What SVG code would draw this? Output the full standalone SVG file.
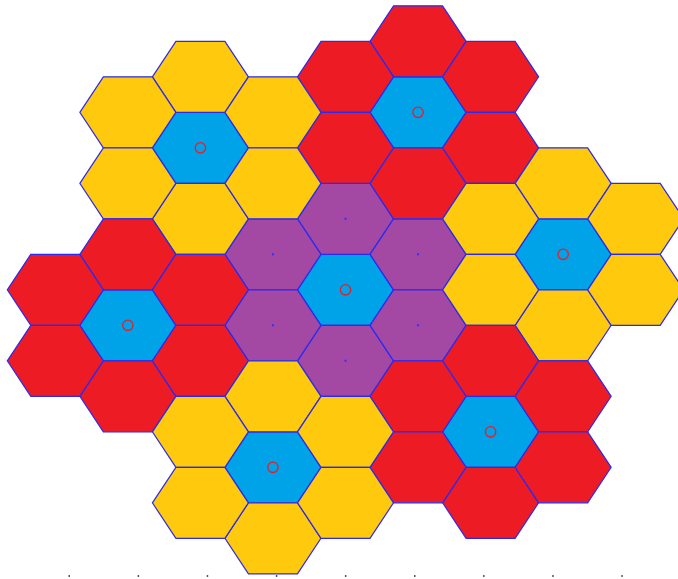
<svg xmlns="http://www.w3.org/2000/svg" xmlns:xlink="http://www.w3.org/1999/xlink" width="678" height="579" viewBox="0 0 678 579">
<style>
.h{stroke:#2a2af0;stroke-width:1.2;stroke-linejoin:miter}
.r{fill:#ED1C24}.y{fill:#FFC90E}.b{fill:#00A2E8}.p{fill:#A349A4}
.c{fill:none;stroke:#ED1C24;stroke-width:1.3}
.d{fill:#3030ff}
.t{fill:#555}
</style>
<defs>
<polygon id="hex" points="-48,0 -24.5,-35.5 24.5,-35.5 48,0 24.5,35.5 -24.5,35.5"/>
</defs>
<rect width="678" height="579" fill="#fff"/>
<g id="cells">
<!-- center cluster -->
<g id="b0"><use href="#hex" class="h b" x="345.5" y="289.8"/><circle class="c" cx="345.5" cy="289.8" r="5.2"/></g>
<g id="p1"><use href="#hex" class="h p" x="345.5" y="218.8"/><rect class="d" x="344.5" y="217.8" width="2" height="2"/></g>
<g id="p2"><use href="#hex" class="h p" x="345.5" y="360.8"/><rect class="d" x="344.5" y="359.8" width="2" height="2"/></g>
<g id="p3"><use href="#hex" class="h p" x="272.95" y="254.3"/><rect class="d" x="271.95" y="253.3" width="2" height="2"/></g>
<g id="p4"><use href="#hex" class="h p" x="418.05" y="254.3"/><rect class="d" x="417.05" y="253.3" width="2" height="2"/></g>
<g id="p5"><use href="#hex" class="h p" x="272.95" y="325.3"/><rect class="d" x="271.95" y="324.3" width="2" height="2"/></g>
<g id="p6"><use href="#hex" class="h p" x="418.05" y="325.3"/><rect class="d" x="417.05" y="324.3" width="2" height="2"/></g>
<!-- red cluster top -->
<g id="bA"><use href="#hex" class="h b" x="418.05" y="112.3"/><circle class="c" cx="418.05" cy="112.3" r="5.2"/></g>
<g id="rA1"><use href="#hex" class="h r" x="418.05" y="41.3"/></g>
<g id="rA2"><use href="#hex" class="h r" x="418.05" y="183.3"/></g>
<g id="rA3"><use href="#hex" class="h r" x="345.5" y="76.8"/></g>
<g id="rA4"><use href="#hex" class="h r" x="345.5" y="147.8"/></g>
<g id="rA5"><use href="#hex" class="h r" x="490.6" y="76.8"/></g>
<g id="rA6"><use href="#hex" class="h r" x="490.6" y="147.8"/></g>
<!-- yellow cluster top-left -->
<g id="bB"><use href="#hex" class="h b" x="200.4" y="147.8"/><circle class="c" cx="200.4" cy="147.8" r="5.2"/></g>
<g id="yB1"><use href="#hex" class="h y" x="200.4" y="76.8"/></g>
<g id="yB2"><use href="#hex" class="h y" x="200.4" y="218.8"/></g>
<g id="yB3"><use href="#hex" class="h y" x="127.85" y="112.3"/></g>
<g id="yB4"><use href="#hex" class="h y" x="127.85" y="183.3"/></g>
<g id="yB5"><use href="#hex" class="h y" x="272.95" y="112.3"/></g>
<g id="yB6"><use href="#hex" class="h y" x="272.95" y="183.3"/></g>
<!-- yellow cluster right -->
<g id="bC"><use href="#hex" class="h b" x="563.15" y="254.3"/><circle class="c" cx="563.15" cy="254.3" r="5.2"/></g>
<g id="yC1"><use href="#hex" class="h y" x="563.15" y="183.3"/></g>
<g id="yC2"><use href="#hex" class="h y" x="563.15" y="325.3"/></g>
<g id="yC3"><use href="#hex" class="h y" x="490.6" y="218.8"/></g>
<g id="yC4"><use href="#hex" class="h y" x="490.6" y="289.8"/></g>
<g id="yC5"><use href="#hex" class="h y" x="635.7" y="218.8"/></g>
<g id="yC6"><use href="#hex" class="h y" x="635.7" y="289.8"/></g>
<!-- red cluster left -->
<g id="bD"><use href="#hex" class="h b" x="127.85" y="325.3"/><circle class="c" cx="127.85" cy="325.3" r="5.2"/></g>
<g id="rD1"><use href="#hex" class="h r" x="127.85" y="254.3"/></g>
<g id="rD2"><use href="#hex" class="h r" x="127.85" y="396.3"/></g>
<g id="rD3"><use href="#hex" class="h r" x="55.3" y="289.8"/></g>
<g id="rD4"><use href="#hex" class="h r" x="55.3" y="360.8"/></g>
<g id="rD5"><use href="#hex" class="h r" x="200.4" y="289.8"/></g>
<g id="rD6"><use href="#hex" class="h r" x="200.4" y="360.8"/></g>
<!-- red cluster bottom-right -->
<g id="bE"><use href="#hex" class="h b" x="490.6" y="431.8"/><circle class="c" cx="490.6" cy="431.8" r="5.2"/></g>
<g id="rE1"><use href="#hex" class="h r" x="490.6" y="360.8"/></g>
<g id="rE2"><use href="#hex" class="h r" x="490.6" y="502.8"/></g>
<g id="rE3"><use href="#hex" class="h r" x="418.05" y="396.3"/></g>
<g id="rE4"><use href="#hex" class="h r" x="418.05" y="467.3"/></g>
<g id="rE5"><use href="#hex" class="h r" x="563.15" y="396.3"/></g>
<g id="rE6"><use href="#hex" class="h r" x="563.15" y="467.3"/></g>
<!-- yellow cluster bottom -->
<g id="bF"><use href="#hex" class="h b" x="272.95" y="467.3"/><circle class="c" cx="272.95" cy="467.3" r="5.2"/></g>
<g id="yF1"><use href="#hex" class="h y" x="272.95" y="396.3"/></g>
<g id="yF2"><use href="#hex" class="h y" x="272.95" y="538.3"/></g>
<g id="yF3"><use href="#hex" class="h y" x="200.4" y="431.8"/></g>
<g id="yF4"><use href="#hex" class="h y" x="200.4" y="502.8"/></g>
<g id="yF5"><use href="#hex" class="h y" x="345.5" y="431.8"/></g>
<g id="yF6"><use href="#hex" class="h y" x="345.5" y="502.8"/></g>
</g>
<g id="connectors"/>
<g id="ticks">
<rect class="t" x="68.5" y="575" width="1.5" height="2"/>
<rect class="t" x="137.6" y="575" width="1.5" height="2"/>
<rect class="t" x="206.7" y="575" width="1.5" height="2"/>
<rect class="t" x="275.8" y="575" width="1.5" height="2"/>
<rect class="t" x="344.9" y="575" width="1.5" height="2"/>
<rect class="t" x="414" y="575" width="1.5" height="2"/>
<rect class="t" x="483.1" y="575" width="1.5" height="2"/>
<rect class="t" x="552.2" y="575" width="1.5" height="2"/>
<rect class="t" x="621.3" y="575" width="1.5" height="2"/>
</g>
</svg>
